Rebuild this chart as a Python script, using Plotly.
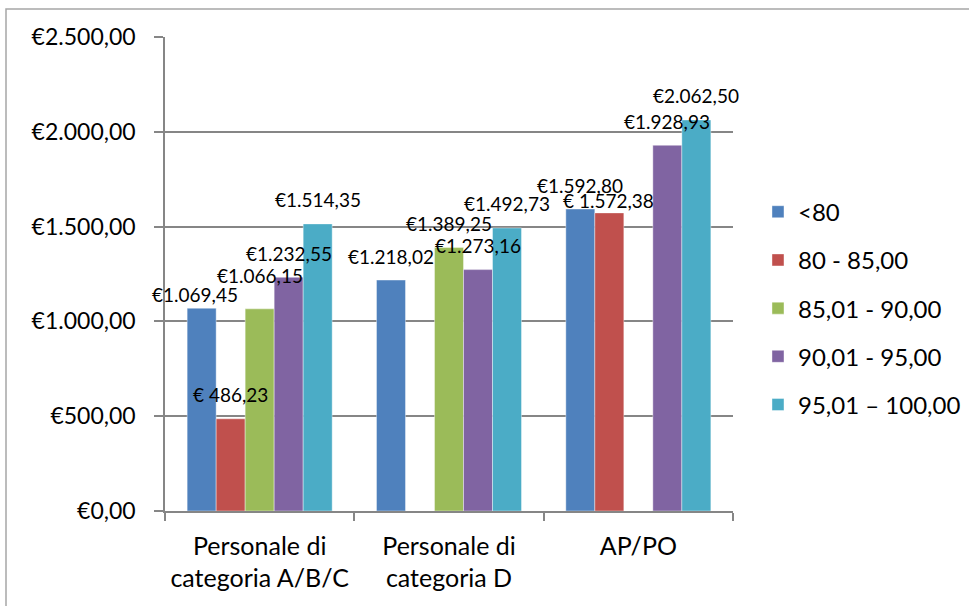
import plotly.graph_objects as go

categories = ["Personale di<br>categoria A/B/C", "Personale di<br>categoria D", "AP/PO"]
series_names = ["<80", "80 - 85,00", "85,01 - 90,00", "90,01 - 95,00", "95,01 – 100,00"]
colors = ["#4F81BD", "#C0504D", "#9BBB59", "#8064A2", "#4BACC6"]

s_lt80 = [1069.45, 1218.02, 1592.80]
s_80_85 = [486.23, None, 1572.38]
s_85_90 = [1066.15, 1389.25, None]
s_90_95 = [1232.55, 1273.16, 1928.93]
s_95_100 = [1514.35, 1492.73, 2062.50]

labels_lt80 = ["€1.069,45", "€1.218,02", "€1.592,80"]
labels_80_85 = ["€ 486,23", None, "€ 1.572,38"]
labels_85_90 = ["€1.066,15", "€1.389,25", None]
labels_90_95 = ["€1.232,55", "€1.273,16", "€1.928,93"]
labels_95_100 = ["€1.514,35", "€1.492,73", "€2.062,50"]

y_tick_vals = [0, 500, 1000, 1500, 2000, 2500]
y_tick_text = ["€0,00", "€500,00", "€1.000,00", "€1.500,00", "€2.000,00", "€2.500,00"]

series_values = [s_lt80, s_80_85, s_85_90, s_90_95, s_95_100]
series_labels = [labels_lt80, labels_80_85, labels_85_90, labels_90_95, labels_95_100]

# layout geometry
W, H = 969, 606
ML, MR, MT, MB = 165, 236, 37, 95
BARGAP = 0.234
FONT = "Lato, Calibri, sans-serif"
GRID = "#868686"

plot_w = W - ML - MR
cat_w = plot_w / len(categories)
bar_w = cat_w * (1 - BARGAP) / len(series_names)

# manual nudges for some labels (series index, category index) -> (dx, dy)
label_nudge = {(0, 0): (-7, -10), (2, 0): (0, 9), (1, 2): (-1, -12)}

fig = go.Figure()
for i, (name, vals, col) in enumerate(zip(series_names, series_values, colors)):
    fig.add_trace(go.Bar(
        x=categories, y=vals, name=name,
        marker=dict(color=col, line=dict(color="rgba(255,255,255,0.5)", width=0.8)),
        legendgroup=name, hoverinfo="skip",
    ))

annotations = []
for i, (vals, labs) in enumerate(zip(series_values, series_labels)):
    for j, (v, t) in enumerate(zip(vals, labs)):
        if v is None or t is None:
            continue
        dx, dy = label_nudge.get((i, j), (0, 0))
        annotations.append(dict(
            x=categories[j], y=v, xref="x", yref="y", text=t, showarrow=False,
            xshift=(i - (len(series_names) - 1) / 2) * bar_w + dx,
            yshift=24 + dy, yanchor="middle", xanchor="center",
            font=dict(family=FONT, size=19, color="#000000"),
        ))

fig.update_layout(
    width=W, height=H,
    margin=dict(l=ML, r=MR, t=MT, b=MB, autoexpand=False),
    paper_bgcolor="white", plot_bgcolor="white",
    barmode="group", bargap=BARGAP, bargroupgap=0,
    font=dict(family=FONT, size=23, color="#000000"),
    showlegend=True,
    legend=dict(
        x=1.044, xanchor="left", y=0.428, yanchor="middle",
        font=dict(family=FONT, size=24, color="#000000"),
        tracegroupgap=14, traceorder="grouped",
        bgcolor="rgba(0,0,0,0)",
    ),
    annotations=annotations,
    shapes=[dict(type="rect", xref="paper", yref="paper",
                 x0=(6 - ML) / plot_w, x1=2, y0=-1, y1=(H - MB - 9) / (H - MT - MB),
                 line=dict(color="#A6A6A6", width=1.5), fillcolor="rgba(0,0,0,0)", layer="below")],
)
fig.update_xaxes(
    type="category", range=[-0.5, len(categories) - 0.5], autorange=False,
    tickson="boundaries", ticks="outside", ticklen=8, tickangle=0, ticklabelstandoff=12,
    tickcolor=GRID, tickwidth=1.5, showline=True, linecolor=GRID, linewidth=1.5,
    showgrid=False, tickfont=dict(family=FONT, size=25), fixedrange=True, automargin=False,
)
fig.update_yaxes(
    range=[0, 2500], autorange=False, tickvals=y_tick_vals, ticktext=y_tick_text,
    ticks="outside", ticklen=9, tickcolor=GRID, tickwidth=1.5, ticklabelstandoff=14,
    showline=True, linecolor=GRID, linewidth=1.5,
    showgrid=True, gridcolor=GRID, gridwidth=1.5, zeroline=False,
    tickfont=dict(family=FONT, size=23), fixedrange=True, automargin=False,
)

fig.write_html("out.html", config={"displayModeBar": False},
               post_script="document.body.style.margin='0';")
